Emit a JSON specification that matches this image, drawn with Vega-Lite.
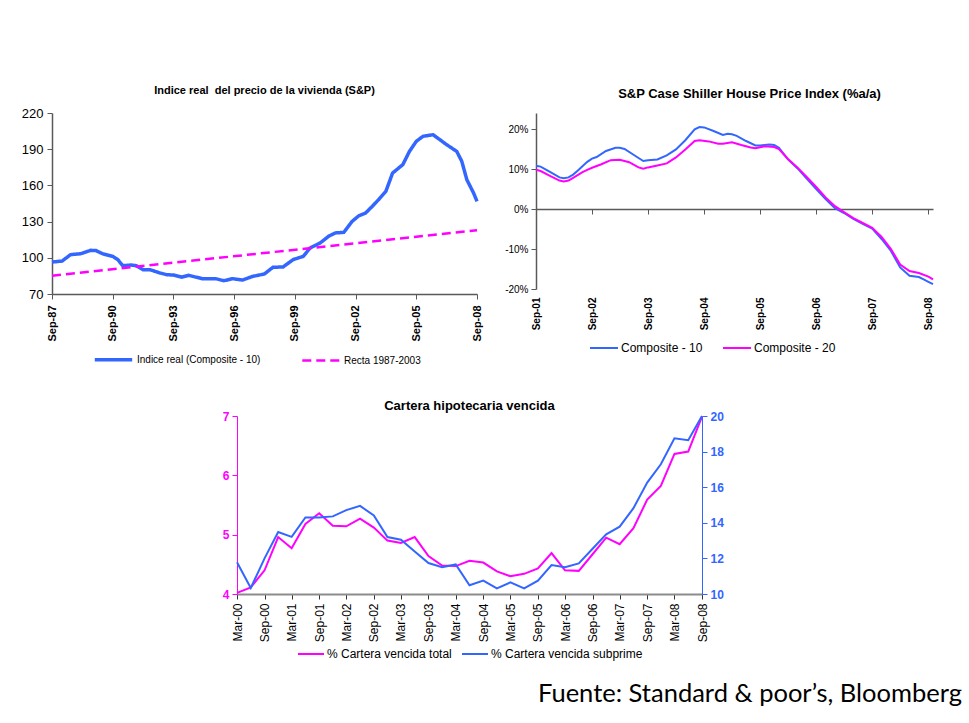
{
  "$schema": "https://vega.github.io/schema/vega-lite/v6.json",
  "background": "white",
  "padding": {"left": 21, "top": 85, "right": 5, "bottom": 5},
  "title": {"text": "Fuente: Standard & poor’s, Bloomberg", "orient": "bottom", "anchor": "end", "font": "Lato", "fontSize": 25.5, "fontWeight": "normal", "color": "#000000", "offset": 22, "dx": 25},
  "spacing": 33,
  "resolve": {"scale": {"color": "independent", "strokeDash": "independent", "strokeWidth": "independent"}, "legend": {"color": "independent", "strokeDash": "independent"}},
  "vconcat": [
    {
      "spacing": 20,
      "resolve": {"scale": {"color": "independent", "strokeDash": "independent", "strokeWidth": "independent"}, "legend": {"color": "independent", "strokeDash": "independent"}},
      "hconcat": [
        {
          "width": 425,
          "height": 181,
          "title": {"text": "Indice real\u00a0 del precio de la vivienda (S&P)", "fontSize": 11, "offset": 11},
          "data": {"values": [
            {"fecha": "1987-09-01", "serie": "Indice real (Composite - 10)", "valor": 96.5},
            {"fecha": "1988-03-01", "serie": "Indice real (Composite - 10)", "valor": 97.3},
            {"fecha": "1988-08-01", "serie": "Indice real (Composite - 10)", "valor": 102.6},
            {"fecha": "1989-02-01", "serie": "Indice real (Composite - 10)", "valor": 103.4},
            {"fecha": "1989-08-01", "serie": "Indice real (Composite - 10)", "valor": 106.2},
            {"fecha": "1989-11-01", "serie": "Indice real (Composite - 10)", "valor": 106.0},
            {"fecha": "1990-03-01", "serie": "Indice real (Composite - 10)", "valor": 103.4},
            {"fecha": "1990-09-01", "serie": "Indice real (Composite - 10)", "valor": 101.2},
            {"fecha": "1990-12-01", "serie": "Indice real (Composite - 10)", "valor": 98.5},
            {"fecha": "1991-03-01", "serie": "Indice real (Composite - 10)", "valor": 93.5},
            {"fecha": "1991-08-01", "serie": "Indice real (Composite - 10)", "valor": 94.0},
            {"fecha": "1991-11-01", "serie": "Indice real (Composite - 10)", "valor": 93.5},
            {"fecha": "1992-03-01", "serie": "Indice real (Composite - 10)", "valor": 90.2},
            {"fecha": "1992-07-01", "serie": "Indice real (Composite - 10)", "valor": 90.2},
            {"fecha": "1993-01-01", "serie": "Indice real (Composite - 10)", "valor": 87.4},
            {"fecha": "1993-05-01", "serie": "Indice real (Composite - 10)", "valor": 86.0},
            {"fecha": "1993-09-01", "serie": "Indice real (Composite - 10)", "valor": 85.7},
            {"fecha": "1994-02-01", "serie": "Indice real (Composite - 10)", "valor": 84.0},
            {"fecha": "1994-06-01", "serie": "Indice real (Composite - 10)", "valor": 85.5},
            {"fecha": "1995-02-01", "serie": "Indice real (Composite - 10)", "valor": 82.7},
            {"fecha": "1995-10-01", "serie": "Indice real (Composite - 10)", "valor": 82.7},
            {"fecha": "1996-03-01", "serie": "Indice real (Composite - 10)", "valor": 81.0},
            {"fecha": "1996-08-01", "serie": "Indice real (Composite - 10)", "valor": 82.7},
            {"fecha": "1997-02-01", "serie": "Indice real (Composite - 10)", "valor": 81.6},
            {"fecha": "1997-08-01", "serie": "Indice real (Composite - 10)", "valor": 84.6},
            {"fecha": "1998-03-01", "serie": "Indice real (Composite - 10)", "valor": 86.6},
            {"fecha": "1998-08-01", "serie": "Indice real (Composite - 10)", "valor": 92.1},
            {"fecha": "1999-02-01", "serie": "Indice real (Composite - 10)", "valor": 92.4},
            {"fecha": "1999-08-01", "serie": "Indice real (Composite - 10)", "valor": 98.5},
            {"fecha": "2000-02-01", "serie": "Indice real (Composite - 10)", "valor": 101.2},
            {"fecha": "2000-06-01", "serie": "Indice real (Composite - 10)", "valor": 108.1},
            {"fecha": "2000-12-01", "serie": "Indice real (Composite - 10)", "valor": 112.3},
            {"fecha": "2001-05-01", "serie": "Indice real (Composite - 10)", "valor": 117.8},
            {"fecha": "2001-09-01", "serie": "Indice real (Composite - 10)", "valor": 120.6},
            {"fecha": "2002-02-01", "serie": "Indice real (Composite - 10)", "valor": 121.1},
            {"fecha": "2002-07-01", "serie": "Indice real (Composite - 10)", "valor": 130.2},
            {"fecha": "2002-11-01", "serie": "Indice real (Composite - 10)", "valor": 134.9},
            {"fecha": "2003-03-01", "serie": "Indice real (Composite - 10)", "valor": 137.1},
            {"fecha": "2003-07-01", "serie": "Indice real (Composite - 10)", "valor": 142.7},
            {"fecha": "2003-11-01", "serie": "Indice real (Composite - 10)", "valor": 148.7},
            {"fecha": "2004-03-01", "serie": "Indice real (Composite - 10)", "valor": 155.1},
            {"fecha": "2004-07-01", "serie": "Indice real (Composite - 10)", "valor": 170.3},
            {"fecha": "2005-01-01", "serie": "Indice real (Composite - 10)", "valor": 177.2},
            {"fecha": "2005-05-01", "serie": "Indice real (Composite - 10)", "valor": 188.2},
            {"fecha": "2005-09-01", "serie": "Indice real (Composite - 10)", "valor": 196.5},
            {"fecha": "2006-01-01", "serie": "Indice real (Composite - 10)", "valor": 200.7},
            {"fecha": "2006-07-01", "serie": "Indice real (Composite - 10)", "valor": 202.0},
            {"fecha": "2006-11-01", "serie": "Indice real (Composite - 10)", "valor": 197.9},
            {"fecha": "2007-03-01", "serie": "Indice real (Composite - 10)", "valor": 193.8},
            {"fecha": "2007-09-01", "serie": "Indice real (Composite - 10)", "valor": 188.2},
            {"fecha": "2007-12-01", "serie": "Indice real (Composite - 10)", "valor": 180.0},
            {"fecha": "2008-03-01", "serie": "Indice real (Composite - 10)", "valor": 164.8},
            {"fecha": "2008-07-01", "serie": "Indice real (Composite - 10)", "valor": 153.7},
            {"fecha": "2008-09-01", "serie": "Indice real (Composite - 10)", "valor": 146.8},
            {"fecha": "1987-09-01", "serie": "Recta 1987-2003", "valor": 85.2},
            {"fecha": "2008-09-01", "serie": "Recta 1987-2003", "valor": 122.8}
          ]},
          "mark": {"type": "line"},
          "encoding": {
            "x": {"field": "fecha", "type": "temporal",
              "scale": {"type": "utc", "domain": [{"year": 1987, "month": 9, "date": 1, "utc": true}, {"year": 2008, "month": 9, "date": 1, "utc": true}]},
              "axis": {"title": null, "format": "%b-%y", "labelAngle": -90, "labelFontWeight": "bold", "labelFontSize": 11, "labelPadding": 6, "tickSize": 5, "domainWidth": 1.5,
                "values": [{"year": 1987, "month": 9, "date": 1, "utc": true}, {"year": 1990, "month": 9, "date": 1, "utc": true}, {"year": 1993, "month": 9, "date": 1, "utc": true}, {"year": 1996, "month": 9, "date": 1, "utc": true}, {"year": 1999, "month": 9, "date": 1, "utc": true}, {"year": 2002, "month": 9, "date": 1, "utc": true}, {"year": 2005, "month": 9, "date": 1, "utc": true}, {"year": 2008, "month": 9, "date": 1, "utc": true}]}},
            "y": {"field": "valor", "type": "quantitative", "scale": {"domain": [70, 220], "nice": false, "zero": false},
              "axis": {"title": null, "values": [70, 100, 130, 160, 190, 220], "labelFontSize": 13, "tickSize": 5, "labelPadding": 4, "domainWidth": 1.5}},
            "color": {"field": "serie", "type": "nominal", "scale": {"domain": ["Indice real (Composite - 10)", "Recta 1987-2003"], "range": ["#3366FF", "#FF00FF"]},
              "legend": {"title": " ", "titleOrient": "right", "titlePadding": 16, "orient": "bottom", "direction": "horizontal", "symbolType": "stroke", "symbolSize": 1400, "symbolStrokeWidth": 3, "labelFontSize": 10, "labelColor": "#000000", "columnPadding": 36, "labelOffset": 3, "offset": -3}},
            "strokeDash": {"field": "serie", "type": "nominal", "scale": {"domain": ["Indice real (Composite - 10)", "Recta 1987-2003"], "range": [[1, 0], [9, 5]]},
              "legend": {"title": " ", "titleOrient": "right", "titlePadding": 16, "orient": "bottom", "direction": "horizontal", "symbolType": "stroke", "symbolSize": 1400, "symbolStrokeWidth": 3, "labelFontSize": 10, "labelColor": "#000000", "columnPadding": 36, "labelOffset": 3, "offset": -3}},
            "strokeWidth": {"field": "serie", "type": "ordinal", "scale": {"domain": ["Indice real (Composite - 10)", "Recta 1987-2003"], "range": [3.5, 2.5]}, "legend": null}
          }
        },
        {
          "width": 397,
          "height": 176,
          "title": {"text": "S&P Case Shiller House Price Index (%a/a)", "fontSize": 13, "offset": 12, "dx": 15},
          "data": {"values": [
            {"fecha": "2001-09-01", "serie": "Composite - 10", "valor": 10.8},
            {"fecha": "2001-10-01", "serie": "Composite - 10", "valor": 10.6},
            {"fecha": "2001-12-01", "serie": "Composite - 10", "valor": 9.3},
            {"fecha": "2002-02-01", "serie": "Composite - 10", "valor": 7.9},
            {"fecha": "2002-03-01", "serie": "Composite - 10", "valor": 7.7},
            {"fecha": "2002-04-01", "serie": "Composite - 10", "valor": 7.9},
            {"fecha": "2002-05-01", "serie": "Composite - 10", "valor": 8.6},
            {"fecha": "2002-06-01", "serie": "Composite - 10", "valor": 9.6},
            {"fecha": "2002-08-01", "serie": "Composite - 10", "valor": 11.8},
            {"fecha": "2002-09-01", "serie": "Composite - 10", "valor": 12.6},
            {"fecha": "2002-10-01", "serie": "Composite - 10", "valor": 13.0},
            {"fecha": "2002-12-01", "serie": "Composite - 10", "valor": 14.5},
            {"fecha": "2003-02-01", "serie": "Composite - 10", "valor": 15.3},
            {"fecha": "2003-03-01", "serie": "Composite - 10", "valor": 15.3},
            {"fecha": "2003-04-01", "serie": "Composite - 10", "valor": 15.0},
            {"fecha": "2003-06-01", "serie": "Composite - 10", "valor": 13.5},
            {"fecha": "2003-08-01", "serie": "Composite - 10", "valor": 12.0},
            {"fecha": "2003-09-01", "serie": "Composite - 10", "valor": 12.2},
            {"fecha": "2003-11-01", "serie": "Composite - 10", "valor": 12.4},
            {"fecha": "2004-01-01", "serie": "Composite - 10", "valor": 13.4},
            {"fecha": "2004-03-01", "serie": "Composite - 10", "valor": 14.9},
            {"fecha": "2004-05-01", "serie": "Composite - 10", "valor": 17.2},
            {"fecha": "2004-07-01", "serie": "Composite - 10", "valor": 19.9},
            {"fecha": "2004-08-01", "serie": "Composite - 10", "valor": 20.5},
            {"fecha": "2004-09-01", "serie": "Composite - 10", "valor": 20.4},
            {"fecha": "2004-11-01", "serie": "Composite - 10", "valor": 19.5},
            {"fecha": "2005-01-01", "serie": "Composite - 10", "valor": 18.5},
            {"fecha": "2005-02-01", "serie": "Composite - 10", "valor": 18.8},
            {"fecha": "2005-03-01", "serie": "Composite - 10", "valor": 18.7},
            {"fecha": "2005-04-01", "serie": "Composite - 10", "valor": 18.3},
            {"fecha": "2005-06-01", "serie": "Composite - 10", "valor": 17.0},
            {"fecha": "2005-08-01", "serie": "Composite - 10", "valor": 15.9},
            {"fecha": "2005-09-01", "serie": "Composite - 10", "valor": 15.9},
            {"fecha": "2005-11-01", "serie": "Composite - 10", "valor": 16.1},
            {"fecha": "2005-12-01", "serie": "Composite - 10", "valor": 16.0},
            {"fecha": "2006-01-01", "serie": "Composite - 10", "valor": 15.3},
            {"fecha": "2006-03-01", "serie": "Composite - 10", "valor": 12.4},
            {"fecha": "2006-05-01", "serie": "Composite - 10", "valor": 10.2},
            {"fecha": "2006-07-01", "serie": "Composite - 10", "valor": 7.6},
            {"fecha": "2006-09-01", "serie": "Composite - 10", "valor": 5.0},
            {"fecha": "2006-11-01", "serie": "Composite - 10", "valor": 2.5},
            {"fecha": "2007-01-01", "serie": "Composite - 10", "valor": 0.2},
            {"fecha": "2007-03-01", "serie": "Composite - 10", "valor": -1.0},
            {"fecha": "2007-05-01", "serie": "Composite - 10", "valor": -2.5},
            {"fecha": "2007-07-01", "serie": "Composite - 10", "valor": -3.7},
            {"fecha": "2007-09-01", "serie": "Composite - 10", "valor": -4.9},
            {"fecha": "2007-11-01", "serie": "Composite - 10", "valor": -7.5},
            {"fecha": "2008-01-01", "serie": "Composite - 10", "valor": -10.5},
            {"fecha": "2008-03-01", "serie": "Composite - 10", "valor": -14.6},
            {"fecha": "2008-05-01", "serie": "Composite - 10", "valor": -16.7},
            {"fecha": "2008-07-01", "serie": "Composite - 10", "valor": -17.0},
            {"fecha": "2008-08-01", "serie": "Composite - 10", "valor": -17.6},
            {"fecha": "2008-09-01", "serie": "Composite - 10", "valor": -18.2},
            {"fecha": "2008-10-01", "serie": "Composite - 10", "valor": -18.8},
            {"fecha": "2001-09-01", "serie": "Composite - 20", "valor": 9.8},
            {"fecha": "2001-10-01", "serie": "Composite - 20", "valor": 9.5},
            {"fecha": "2001-12-01", "serie": "Composite - 20", "valor": 8.3},
            {"fecha": "2002-02-01", "serie": "Composite - 20", "valor": 7.1},
            {"fecha": "2002-03-01", "serie": "Composite - 20", "valor": 6.9},
            {"fecha": "2002-04-01", "serie": "Composite - 20", "valor": 7.1},
            {"fecha": "2002-05-01", "serie": "Composite - 20", "valor": 7.8},
            {"fecha": "2002-07-01", "serie": "Composite - 20", "valor": 9.2},
            {"fecha": "2002-08-01", "serie": "Composite - 20", "valor": 9.8},
            {"fecha": "2002-09-01", "serie": "Composite - 20", "valor": 10.3},
            {"fecha": "2002-11-01", "serie": "Composite - 20", "valor": 11.2},
            {"fecha": "2003-01-01", "serie": "Composite - 20", "valor": 12.2},
            {"fecha": "2003-03-01", "serie": "Composite - 20", "valor": 12.3},
            {"fecha": "2003-05-01", "serie": "Composite - 20", "valor": 11.7},
            {"fecha": "2003-07-01", "serie": "Composite - 20", "valor": 10.4},
            {"fecha": "2003-08-01", "serie": "Composite - 20", "valor": 10.1},
            {"fecha": "2003-09-01", "serie": "Composite - 20", "valor": 10.4},
            {"fecha": "2003-11-01", "serie": "Composite - 20", "valor": 10.9},
            {"fecha": "2004-01-01", "serie": "Composite - 20", "valor": 11.4},
            {"fecha": "2004-03-01", "serie": "Composite - 20", "valor": 12.9},
            {"fecha": "2004-05-01", "serie": "Composite - 20", "valor": 14.9},
            {"fecha": "2004-07-01", "serie": "Composite - 20", "valor": 17.0},
            {"fecha": "2004-08-01", "serie": "Composite - 20", "valor": 17.2},
            {"fecha": "2004-10-01", "serie": "Composite - 20", "valor": 16.9},
            {"fecha": "2004-12-01", "serie": "Composite - 20", "valor": 16.3},
            {"fecha": "2005-01-01", "serie": "Composite - 20", "valor": 16.3},
            {"fecha": "2005-03-01", "serie": "Composite - 20", "valor": 16.7},
            {"fecha": "2005-05-01", "serie": "Composite - 20", "valor": 16.0},
            {"fecha": "2005-07-01", "serie": "Composite - 20", "valor": 15.4},
            {"fecha": "2005-08-01", "serie": "Composite - 20", "valor": 15.2},
            {"fecha": "2005-10-01", "serie": "Composite - 20", "valor": 15.7},
            {"fecha": "2005-12-01", "serie": "Composite - 20", "valor": 15.5},
            {"fecha": "2006-01-01", "serie": "Composite - 20", "valor": 15.0},
            {"fecha": "2006-03-01", "serie": "Composite - 20", "valor": 12.5},
            {"fecha": "2006-05-01", "serie": "Composite - 20", "valor": 10.4},
            {"fecha": "2006-07-01", "serie": "Composite - 20", "valor": 8.0},
            {"fecha": "2006-09-01", "serie": "Composite - 20", "valor": 5.5},
            {"fecha": "2006-11-01", "serie": "Composite - 20", "valor": 2.9},
            {"fecha": "2007-01-01", "serie": "Composite - 20", "valor": 0.7},
            {"fecha": "2007-03-01", "serie": "Composite - 20", "valor": -0.8},
            {"fecha": "2007-05-01", "serie": "Composite - 20", "valor": -2.3},
            {"fecha": "2007-07-01", "serie": "Composite - 20", "valor": -3.5},
            {"fecha": "2007-09-01", "serie": "Composite - 20", "valor": -4.7},
            {"fecha": "2007-11-01", "serie": "Composite - 20", "valor": -7.0},
            {"fecha": "2008-01-01", "serie": "Composite - 20", "valor": -10.0},
            {"fecha": "2008-03-01", "serie": "Composite - 20", "valor": -13.9},
            {"fecha": "2008-05-01", "serie": "Composite - 20", "valor": -15.5},
            {"fecha": "2008-07-01", "serie": "Composite - 20", "valor": -16.0},
            {"fecha": "2008-09-01", "serie": "Composite - 20", "valor": -16.9},
            {"fecha": "2008-10-01", "serie": "Composite - 20", "valor": -17.6}
          ]},
          "resolve": {"axis": {"x": "independent"}},
          "layer": [
            {
              "mark": {"type": "line", "strokeWidth": 2},
              "encoding": {
                "x": {"field": "fecha", "type": "temporal",
                  "scale": {"type": "utc", "domain": [{"year": 2001, "month": 9, "date": 1, "utc": true}, {"year": 2008, "month": 10, "date": 1, "utc": true}]},
                  "axis": {"orient": "bottom", "title": null, "format": "%b-%y", "labelAngle": -90, "labelFontWeight": "bold", "labelFontSize": 10, "labelPadding": 8, "ticks": false, "domain": false,
                    "values": [{"year": 2001, "month": 9, "date": 1, "utc": true}, {"year": 2002, "month": 9, "date": 1, "utc": true}, {"year": 2003, "month": 9, "date": 1, "utc": true}, {"year": 2004, "month": 9, "date": 1, "utc": true}, {"year": 2005, "month": 9, "date": 1, "utc": true}, {"year": 2006, "month": 9, "date": 1, "utc": true}, {"year": 2007, "month": 9, "date": 1, "utc": true}, {"year": 2008, "month": 9, "date": 1, "utc": true}]}},
                "y": {"field": "valor", "type": "quantitative", "scale": {"domain": [-20, 24], "nice": false, "zero": false},
                  "axis": {"title": null, "values": [-20, -10, 0, 10, 20], "labelExpr": "datum.value + '%'", "labelFontSize": 10, "tickSize": 5, "labelPadding": 3, "domainWidth": 1.5}},
                "color": {"field": "serie", "type": "nominal", "scale": {"domain": ["Composite - 10", "Composite - 20"], "range": ["#3366FF", "#FF00FF"]},
                  "legend": {"title": " ", "titleOrient": "right", "titlePadding": 46, "orient": "bottom", "direction": "horizontal", "symbolType": "stroke", "symbolSize": 784, "symbolStrokeWidth": 2, "labelFontSize": 12, "labelColor": "#000000", "columnPadding": 16, "labelOffset": 2, "offset": 3}}
              }
            },
            {
              "mark": {"type": "line", "opacity": 0},
              "encoding": {
                "x": {"field": "fecha", "type": "temporal",
                  "axis": {"orient": "bottom", "offset": -80, "title": null, "labels": false, "ticks": true, "tickSize": 5, "domain": true, "domainWidth": 1.5,
                    "values": [{"year": 2001, "month": 9, "date": 1, "utc": true}, {"year": 2002, "month": 9, "date": 1, "utc": true}, {"year": 2003, "month": 9, "date": 1, "utc": true}, {"year": 2004, "month": 9, "date": 1, "utc": true}, {"year": 2005, "month": 9, "date": 1, "utc": true}, {"year": 2006, "month": 9, "date": 1, "utc": true}, {"year": 2007, "month": 9, "date": 1, "utc": true}, {"year": 2008, "month": 9, "date": 1, "utc": true}]}},
                "y": {"field": "valor", "type": "quantitative"},
                "detail": {"field": "serie", "type": "nominal"}
              }
            }
          ]
        }
      ]
    },
    {
      "spacing": 0,
      "resolve": {"scale": {"color": "independent"}, "legend": {"color": "independent"}},
      "hconcat": [
        {
          "width": 170,
          "height": 1,
          "data": {"values": []},
          "mark": {"type": "point", "opacity": 0},
          "encoding": {}
        },
        {
          "width": 465,
          "height": 178,
          "title": {"text": "Cartera hipotecaria vencida", "fontSize": 13, "offset": -3},
          "data": {"values": [
            {"fecha": "2000-03-01", "total": 4.02, "subprime": 11.78},
            {"fecha": "2000-06-01", "total": 4.11, "subprime": 10.34},
            {"fecha": "2000-09-01", "total": 4.40, "subprime": 12.0},
            {"fecha": "2000-12-01", "total": 4.96, "subprime": 13.48},
            {"fecha": "2001-03-01", "total": 4.77, "subprime": 13.21},
            {"fecha": "2001-06-01", "total": 5.18, "subprime": 14.30},
            {"fecha": "2001-09-01", "total": 5.36, "subprime": 14.30},
            {"fecha": "2001-12-01", "total": 5.15, "subprime": 14.36},
            {"fecha": "2002-03-01", "total": 5.14, "subprime": 14.71},
            {"fecha": "2002-06-01", "total": 5.27, "subprime": 14.95},
            {"fecha": "2002-09-01", "total": 5.12, "subprime": 14.41},
            {"fecha": "2002-12-01", "total": 4.90, "subprime": 13.20},
            {"fecha": "2003-03-01", "total": 4.86, "subprime": 13.05},
            {"fecha": "2003-06-01", "total": 4.96, "subprime": 12.39},
            {"fecha": "2003-09-01", "total": 4.64, "subprime": 11.74},
            {"fecha": "2003-12-01", "total": 4.48, "subprime": 11.50},
            {"fecha": "2004-03-01", "total": 4.47, "subprime": 11.66},
            {"fecha": "2004-06-01", "total": 4.56, "subprime": 10.49},
            {"fecha": "2004-09-01", "total": 4.53, "subprime": 10.75},
            {"fecha": "2004-12-01", "total": 4.38, "subprime": 10.32},
            {"fecha": "2005-03-01", "total": 4.30, "subprime": 10.65},
            {"fecha": "2005-06-01", "total": 4.34, "subprime": 10.32},
            {"fecha": "2005-09-01", "total": 4.43, "subprime": 10.75},
            {"fecha": "2005-12-01", "total": 4.69, "subprime": 11.63},
            {"fecha": "2006-03-01", "total": 4.40, "subprime": 11.50},
            {"fecha": "2006-06-01", "total": 4.39, "subprime": 11.72},
            {"fecha": "2006-09-01", "total": 4.67, "subprime": 12.54},
            {"fecha": "2006-12-01", "total": 4.95, "subprime": 13.35},
            {"fecha": "2007-03-01", "total": 4.84, "subprime": 13.78},
            {"fecha": "2007-06-01", "total": 5.11, "subprime": 14.82},
            {"fecha": "2007-09-01", "total": 5.59, "subprime": 16.26},
            {"fecha": "2007-12-01", "total": 5.82, "subprime": 17.29},
            {"fecha": "2008-03-01", "total": 6.36, "subprime": 18.75},
            {"fecha": "2008-06-01", "total": 6.40, "subprime": 18.64},
            {"fecha": "2008-09-01", "total": 6.99, "subprime": 20.0}
          ]},
          "encoding": {
            "x": {"field": "fecha", "type": "temporal",
              "scale": {"type": "utc", "domain": [{"year": 2000, "month": 3, "date": 1, "utc": true}, {"year": 2008, "month": 9, "date": 1, "utc": true}]},
              "axis": {"title": null, "format": "%b-%y", "labelAngle": -90, "labelFontSize": 12, "labelPadding": 4, "tickSize": 5, "domainColor": "#8c8c8c", "domainWidth": 2, "tickColor": "#333333",
                "values": [
                  {"year": 2000, "month": 3, "date": 1, "utc": true}, {"year": 2000, "month": 9, "date": 1, "utc": true},
                  {"year": 2001, "month": 3, "date": 1, "utc": true}, {"year": 2001, "month": 9, "date": 1, "utc": true},
                  {"year": 2002, "month": 3, "date": 1, "utc": true}, {"year": 2002, "month": 9, "date": 1, "utc": true},
                  {"year": 2003, "month": 3, "date": 1, "utc": true}, {"year": 2003, "month": 9, "date": 1, "utc": true},
                  {"year": 2004, "month": 3, "date": 1, "utc": true}, {"year": 2004, "month": 9, "date": 1, "utc": true},
                  {"year": 2005, "month": 3, "date": 1, "utc": true}, {"year": 2005, "month": 9, "date": 1, "utc": true},
                  {"year": 2006, "month": 3, "date": 1, "utc": true}, {"year": 2006, "month": 9, "date": 1, "utc": true},
                  {"year": 2007, "month": 3, "date": 1, "utc": true}, {"year": 2007, "month": 9, "date": 1, "utc": true},
                  {"year": 2008, "month": 3, "date": 1, "utc": true}, {"year": 2008, "month": 9, "date": 1, "utc": true}]}}
          },
          "resolve": {"scale": {"y": "independent"}},
          "layer": [
            {
              "mark": {"type": "line", "strokeWidth": 2},
              "encoding": {
                "y": {"field": "total", "type": "quantitative", "scale": {"domain": [4, 7], "nice": false, "zero": false},
                  "axis": {"orient": "left", "title": null, "values": [4, 5, 6, 7], "labelFontSize": 12, "labelFontWeight": "bold", "labelColor": "#FF00FF", "domainColor": "#FF00FF", "tickColor": "#FF00FF", "tickSize": 5, "labelPadding": 3}},
                "color": {"datum": "% Cartera vencida total", "type": "nominal",
                  "scale": {"domain": ["% Cartera vencida total", "% Cartera vencida subprime"], "range": ["#FF00FF", "#3366FF"]},
                  "legend": {"title": null, "orient": "bottom", "direction": "horizontal", "symbolType": "stroke", "symbolSize": 676, "symbolStrokeWidth": 2, "labelFontSize": 12, "labelColor": "#000000", "columnPadding": 6, "labelOffset": 2, "offset": -2}}
              }
            },
            {
              "mark": {"type": "line", "strokeWidth": 2},
              "encoding": {
                "y": {"field": "subprime", "type": "quantitative", "scale": {"domain": [10, 20], "nice": false, "zero": false},
                  "axis": {"orient": "right", "title": null, "values": [10, 12, 14, 16, 18, 20], "labelFontSize": 12, "labelFontWeight": "bold", "labelColor": "#3366FF", "domainColor": "#3366FF", "tickColor": "#3366FF", "tickSize": 5, "labelPadding": 3}},
                "color": {"datum": "% Cartera vencida subprime", "type": "nominal"}
              }
            }
          ]
        }
      ]
    }
  ],
  "config": {
    "font": "Liberation Sans",
    "view": {"stroke": null},
    "axis": {"grid": false, "labelColor": "#000000", "domainColor": "#595959", "tickColor": "#595959"},
    "legend": {"layout": {"bottom": {"anchor": "middle"}}},
    "title": {"fontWeight": "bold", "color": "#000000", "font": "Liberation Sans", "anchor": "middle"}
  }
}
